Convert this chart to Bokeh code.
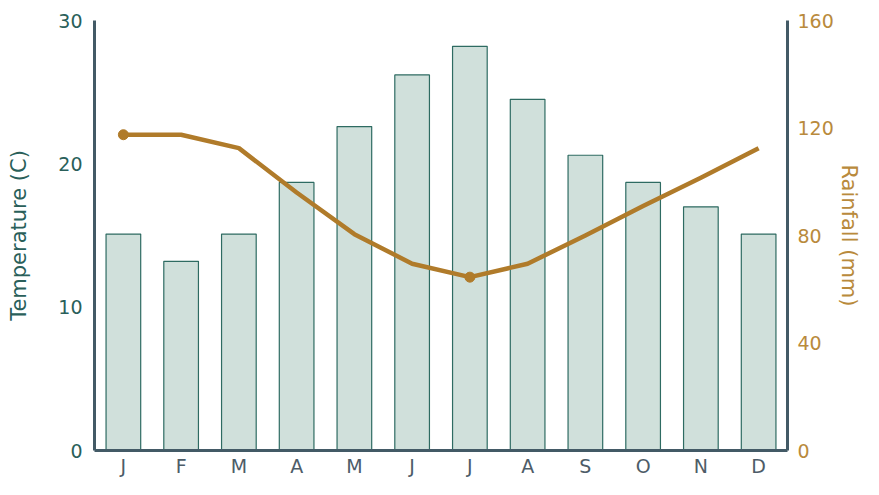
from bokeh.plotting import figure
from bokeh.models import Range1d, LinearAxis, FixedTicker
from bokeh.embed import file_html
from bokeh.resources import INLINE

months = ["J", "F", "M", "A", "M", "J", "J", "A", "S", "O", "N", "D"]
temperature = [15.1, 13.2, 15.1, 18.7, 22.6, 26.2, 28.2, 24.5, 20.6, 18.7, 17.0, 15.1]
rainfall = [117.5, 117.5, 112.5, 96, 80.5, 69.5, 64.5, 69.5, 80, 91, 101.5, 112.5]
temp_ticks = [0, 10, 20, 30]
rain_ticks = [0, 40, 80, 120, 160]

xs = list(range(1, len(months) + 1))
FONT = "DejaVu Sans"
AXIS_COL = "#435a66"
TEAL = "#2a5f5a"
ORANGE = "#b98a3c"
LINE_COL = "#b07b2a"

p = figure(width=863, height=479, output_backend="svg", toolbar_location=None,
           x_range=Range1d(0.5, 12.5), y_range=Range1d(0, 30),
           min_border_left=94, min_border_top=20, min_border_right=0, min_border_bottom=0)
p.outline_line_color = None
p.background_fill_color = "white"
p.xgrid.visible = False
p.ygrid.visible = False

p.extra_y_ranges = {"rain": Range1d(0, 160)}

p.vbar(x=xs, top=temperature, width=0.6, bottom=0, fill_color="#d0e0db",
       line_color="#2e6b62", line_width=1.2)

p.line(x=xs, y=rainfall, y_range_name="rain", line_color=LINE_COL, line_width=4.5,
       line_join="round")
imin = rainfall.index(min(rainfall))
mx = [xs[0], xs[imin]]
my = [rainfall[0], rainfall[imin]]
p.scatter(x=mx, y=my, y_range_name="rain", size=10, fill_color=LINE_COL, line_color=LINE_COL)

def style_axis(ax, color):
    ax.major_tick_line_color = None
    ax.minor_tick_line_color = None
    ax.major_tick_out = 0
    ax.major_tick_in = 0
    ax.minor_tick_out = 0
    ax.minor_tick_in = 0
    ax.axis_line_color = AXIS_COL
    ax.axis_line_width = 3
    ax.major_label_text_font = FONT
    ax.major_label_text_font_size = "19px"
    ax.major_label_text_color = color
    ax.axis_label_text_font = FONT
    ax.axis_label_text_font_style = "normal"
    ax.axis_label_text_font_size = "21px"

# x axis
xa = p.xaxis[0]
xa.ticker = FixedTicker(ticks=xs)
xa.major_label_overrides = {x: m for x, m in zip(xs, months)}
style_axis(xa, "#4d5c68")
xa.major_label_standoff = 4

# left axis
ya = p.yaxis[0]
ya.ticker = FixedTicker(ticks=temp_ticks)
style_axis(ya, TEAL)
ya.major_label_standoff = 12
ya.axis_label = "Temperature (C)"
ya.axis_label_text_color = TEAL
ya.axis_label_standoff = 24

# right axis
ra = LinearAxis(y_range_name="rain", ticker=FixedTicker(ticks=rain_ticks))
style_axis(ra, ORANGE)
ra.major_label_standoff = 10
ra.axis_label = "Rainfall (mm)"
ra.axis_label_text_color = ORANGE
ra.axis_label_standoff = 0
p.add_layout(ra, "right")

open("out.html", "w").write(file_html(p, INLINE))
